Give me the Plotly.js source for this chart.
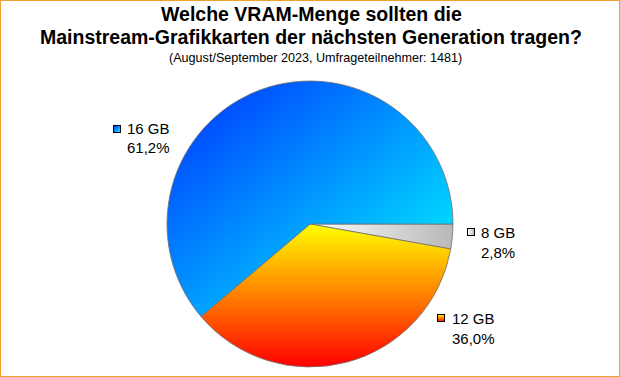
<!DOCTYPE html>
<html><head><meta charset="utf-8">
<script src="https://cdn.plot.ly/plotly-3.0.1.min.js"></script>
<style>
html,body{margin:0;padding:0;background:#fff;}
#chart{width:618px;height:375px;border:1px solid #f0a030;}
</style></head>
<body>
<svg width="0" height="0" style="position:absolute">
<defs>
<linearGradient id="g16" x1="0" y1="0" x2="1" y2="1"><stop offset="0" stop-color="#0030ff"/><stop offset="1" stop-color="#00ffff"/></linearGradient>
<linearGradient id="g12" x1="0" y1="0" x2="0" y2="1"><stop offset="0" stop-color="#ffff00"/><stop offset="1" stop-color="#ff0000"/></linearGradient>
<linearGradient id="g8" x1="0" y1="0" x2="1" y2="0"><stop offset="0" stop-color="#ffffff"/><stop offset="1" stop-color="#b8b8b8"/></linearGradient>
</defs></svg>
<div id="chart"></div>
<script>
// slices in clockwise order starting at 3 o'clock
const labels = ['8 GB', '12 GB', '16 GB'];
const values = [2.8, 36.0, 61.2];
const percentText = ['2,8%', '36,0%', '61,2%'];
const titleLines = ['Welche VRAM-Menge sollten die', 'Mainstream-Grafikkarten der nächsten Generation tragen?'];
const subtitle = '(August/September 2023, Umfrageteilnehmer: 1481)';

const W = 618, H = 375;
const px = x => (x - 1) / W;
const py = y => 1 - (y - 1) / H;

// pie geometry (reference pixels)
const cx = 310, cy = 224, r = 143;

const solid = ['#d8d8d8', '#ffa000', '#0090ff'];
const grads = ['g8', 'g12', 'g16'];

const labelPos = [
  {sq: [470.5, 232.5], tx: 480, ty: [232.5, 252]},
  {sq: [440.5, 318], tx: 450.5, ty: [318.5, 338.5]},
  {sq: [116.5, 128.5], tx: 126, ty: [128.5, 147.5]}
];

const FONT = 'Liberation Sans, Arial, sans-serif';
const annotations = [];
titleLines.forEach((t, i) => annotations.push({
  text: '<b>' + t + '</b>', x: px(311), xref: 'paper', y: py([14, 37][i]), yref: 'paper',
  xanchor: 'center', yanchor: 'middle', showarrow: false,
  font: {family: FONT, size: 19.5, color: '#000'}
}));
annotations.push({
  text: subtitle, x: px(315), xref: 'paper', y: py(58), yref: 'paper',
  xanchor: 'center', yanchor: 'middle', showarrow: false,
  font: {family: FONT, size: 12.6, color: '#000'}
});
const squareStart = annotations.length;
labels.forEach((l, i) => {
  const p = labelPos[i];
  annotations.push({
    text: ' ', x: px(p.sq[0]), y: py(p.sq[1]), xref: 'paper', yref: 'paper',
    xanchor: 'center', yanchor: 'middle', showarrow: false,
    width: 6, height: 6, borderwidth: 1, borderpad: 0, bordercolor: '#000', bgcolor: solid[i],
    font: {size: 1}
  });
});
labels.forEach((l, i) => {
  const p = labelPos[i];
  [l, percentText[i]].forEach((t, j) => annotations.push({
    text: t, x: px(p.tx), y: py(p.ty[j]), xref: 'paper', yref: 'paper',
    xanchor: 'left', yanchor: 'middle', align: 'left', showarrow: false, borderpad: 0,
    font: {family: FONT, size: 15, color: '#000'}
  }));
});

const data = [{
  type: 'pie', labels: labels, values: values, sort: false,
  direction: 'clockwise', rotation: 90,
  textinfo: 'none', hoverinfo: 'none',
  marker: {colors: solid, line: {color: '#707070', width: 0.8}},
  domain: {x: [px(cx - r), px(cx + r)], y: [py(cy + r), py(cy - r)]},
  showlegend: false
}];

const layout = {
  width: W, height: H, margin: {l: 0, r: 0, t: 0, b: 0},
  paper_bgcolor: '#fff', plot_bgcolor: '#fff',
  showlegend: false, annotations: annotations
};

Plotly.newPlot('chart', data, layout, {staticPlot: true, displayModeBar: false}).then(gd => {
  const paths = gd.querySelectorAll('.pielayer .slice path.surface');
  paths.forEach((p, k) => {
    const d = p.__data__;
    const idx = (d && d.i !== undefined) ? d.i : k;
    p.style.fill = 'url(#' + grads[idx] + ')';
  });
  const anns = gd.querySelectorAll('.annotation');
  labels.forEach((l, i) => {
    const a = anns[squareStart + i];
    if (a) { const bg = a.querySelector('rect.bg'); if (bg) bg.style.fill = 'url(#' + grads[i] + ')'; }
  });
});
</script>
</body></html>
